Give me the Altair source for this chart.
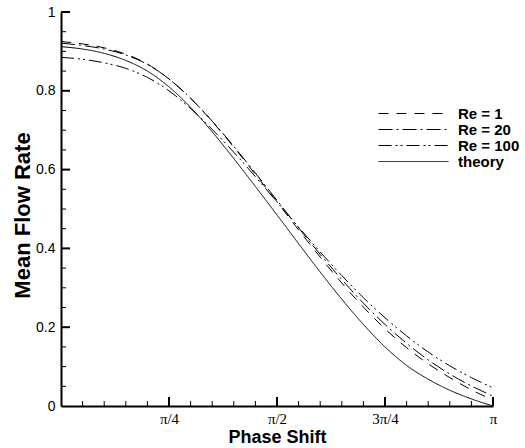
import altair as alt
import pandas as pd

# phase shift in units of pi
phase = [0.0, 0.05, 0.1, 0.15, 0.2, 0.25, 0.3, 0.35, 0.4, 0.45, 0.5,
         0.55, 0.6, 0.65, 0.7, 0.75, 0.8, 0.85, 0.9, 0.95, 1.0]

re1 = [0.925, 0.919, 0.909, 0.893, 0.868, 0.830, 0.781, 0.722, 0.657, 0.588, 0.518,
       0.447, 0.378, 0.312, 0.251, 0.196, 0.148, 0.107, 0.072, 0.041, 0.015]
re20 = [0.921, 0.915, 0.906, 0.891, 0.867, 0.830, 0.781, 0.723, 0.659, 0.591, 0.522,
        0.452, 0.385, 0.321, 0.261, 0.207, 0.159, 0.117, 0.081, 0.051, 0.025]
re100 = [0.885, 0.880, 0.871, 0.857, 0.834, 0.800, 0.755, 0.702, 0.644, 0.582, 0.518,
         0.454, 0.391, 0.331, 0.275, 0.224, 0.178, 0.137, 0.102, 0.072, 0.046]
theory = [0.912, 0.906, 0.895, 0.877, 0.850, 0.810, 0.758, 0.696, 0.628, 0.557, 0.485,
          0.412, 0.340, 0.271, 0.207, 0.150, 0.103, 0.068, 0.040, 0.018, 0.0]

series_names = ["Re = 1", "Re = 20", "Re = 100", "theory"]
dashes = [[10, 8], [14, 4, 2, 4], [13, 4, 2, 3, 2, 4], [1, 0]]

x_major = [0.25, 0.5, 0.75, 1.0]
x_minor = [0.05, 0.1, 0.15, 0.2, 0.3, 0.35, 0.4, 0.45, 0.55, 0.6, 0.65, 0.7,
           0.8, 0.85, 0.9, 0.95]
y_major = [0.2, 0.4, 0.6, 0.8, 1.0]
y_minor = [0.05, 0.1, 0.15, 0.25, 0.3, 0.35, 0.45, 0.5, 0.55, 0.65, 0.7, 0.75,
           0.85, 0.9, 0.95]
y_labels = [0, 0.2, 0.4, 0.6, 0.8, 1.0]

rows = []
for name, vals in zip(series_names, [re1, re20, re100, theory]):
    for p, v in zip(phase, vals):
        rows.append({"phase": p, "rate": v, "series": name})
df = pd.DataFrame(rows)

W, H = 432, 394
SANS = "Liberation Sans"

xscale = alt.Scale(domain=[0, 1], nice=False, zero=False)
yscale = alt.Scale(domain=[0, 1], nice=False, zero=False)

label_expr = ("datum.value == 0.25 ? 'π/4' : datum.value == 0.5 ? 'π/2' : "
              "datum.value == 0.75 ? '3π/4' : 'π'")

lines = alt.Chart(df).mark_line(color="black", strokeWidth=1, interpolate="monotone").encode(
    x=alt.X("phase:Q", scale=xscale, axis=alt.Axis(
        values=x_major, labelExpr=label_expr, ticks=False, tickSize=0,
        labelPadding=5, labelFont="Liberation Serif", labelFontSize=15,
        labelColor="black", labelFlush=False, labelOverlap=False,
        domainColor="black", domainWidth=2, grid=False,
        title="Phase Shift", titleFont=SANS, titleFontSize=18,
        titleFontWeight="bold", titleColor="black",
        titleBaseline="alphabetic", titleY=36, titleX=W / 2)),
    y=alt.Y("rate:Q", scale=yscale, axis=alt.Axis(
        values=y_labels, format="~g", ticks=False, tickSize=0, labelPadding=6,
        labelFont=SANS, labelFontSize=14, labelColor="black",
        labelFlush=False, labelOverlap=False,
        domainColor="black", domainWidth=2, grid=False,
        title="Mean Flow Rate", titleFont=SANS, titleFontSize=22,
        titleFontWeight="bold", titleColor="black", titleAngle=270,
        titleBaseline="alphabetic", titleX=-32, titleY=203)),
    strokeDash=alt.StrokeDash("series:N",
        scale=alt.Scale(domain=series_names, range=dashes),
        sort=series_names,
        legend=alt.Legend(title=None, orient="none", legendX=317, legendY=94,
                          symbolType="M-5,0H5", symbolSize=196,
                          symbolStrokeWidth=1, symbolStrokeColor="black",
                          symbolOffset=28, labelOffset=37,
                          labelFont=SANS, labelFontSize=15,
                          labelFontWeight="bold", labelColor="black",
                          clipHeight=15, rowPadding=0, padding=0)),
)

xmaj = alt.Chart(pd.DataFrame({"phase": x_major})).mark_rule(
    color="black", strokeWidth=2).encode(
    x=alt.X("phase:Q", scale=xscale), y=alt.value(H), y2=alt.value(H - 9))
xmin = alt.Chart(pd.DataFrame({"phase": x_minor})).mark_rule(
    color="black", strokeWidth=1).encode(
    x=alt.X("phase:Q", scale=xscale), y=alt.value(H), y2=alt.value(H - 5))
ymaj = alt.Chart(pd.DataFrame({"rate": y_major})).mark_rule(
    color="black", strokeWidth=2).encode(
    y=alt.Y("rate:Q", scale=yscale), x=alt.value(0), x2=alt.value(9))
ymin = alt.Chart(pd.DataFrame({"rate": y_minor})).mark_rule(
    color="black", strokeWidth=1).encode(
    y=alt.Y("rate:Q", scale=yscale), x=alt.value(0), x2=alt.value(5))

chart = alt.layer(lines, xmaj, xmin, ymaj, ymin).properties(
    width=W, height=H,
    autosize=alt.AutoSizeParams(type="none"),
    padding={"left": 61, "top": 12, "right": 32, "bottom": 42},
    background="white",
).configure_view(stroke=None)

chart.save("out.html", embed_options={"renderer": "svg", "actions": False})
